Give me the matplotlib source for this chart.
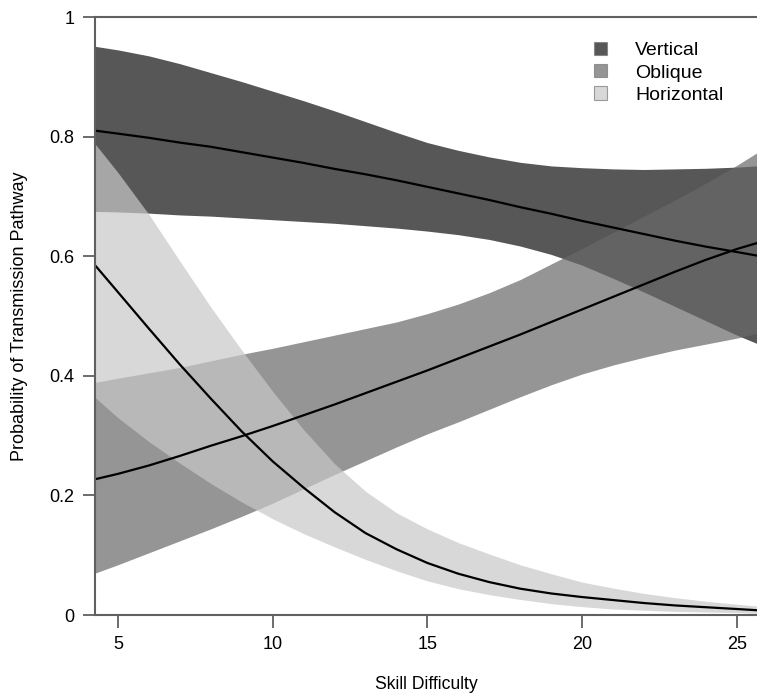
import matplotlib
matplotlib.use("Agg")
import matplotlib.pyplot as plt
from matplotlib.patches import Patch

plt.rcParams['font.family'] = ['Liberation Sans', 'DejaVu Sans']

# skill difficulty values the curves were read at
skill = [4.26, 5, 6, 7, 8, 9, 10, 11, 12, 13, 14, 15, 16, 17, 18, 19, 20,
         21, 22, 23, 24, 25, 25.65]

# vertical pathway: fit and band
vert_mid = [0.810, 0.805, 0.798, 0.790, 0.783, 0.774, 0.765, 0.756, 0.746, 0.737,
            0.727, 0.716, 0.705, 0.694, 0.682, 0.671, 0.659, 0.648, 0.637, 0.626,
            0.616, 0.607, 0.601]
vert_hi = [0.951, 0.945, 0.935, 0.922, 0.907, 0.892, 0.876, 0.860, 0.843, 0.825,
           0.807, 0.790, 0.777, 0.766, 0.757, 0.751, 0.748, 0.746, 0.745, 0.746,
           0.747, 0.749, 0.751]
vert_lo = [0.675, 0.674, 0.672, 0.669, 0.667, 0.664, 0.661, 0.658, 0.655, 0.651,
           0.647, 0.642, 0.636, 0.628, 0.617, 0.603, 0.585, 0.563, 0.540, 0.516,
           0.492, 0.468, 0.454]

# oblique pathway
obl_mid = [0.227, 0.236, 0.250, 0.266, 0.283, 0.299, 0.316, 0.334, 0.352, 0.371,
           0.390, 0.409, 0.429, 0.449, 0.469, 0.490, 0.511, 0.532, 0.553, 0.574,
           0.594, 0.612, 0.622]
obl_hi = [0.389, 0.396, 0.405, 0.414, 0.425, 0.436, 0.446, 0.457, 0.468, 0.479,
          0.490, 0.504, 0.520, 0.539, 0.561, 0.587, 0.613, 0.640, 0.667, 0.694,
          0.722, 0.752, 0.773]
obl_lo = [0.070, 0.084, 0.104, 0.124, 0.144, 0.165, 0.187, 0.211, 0.235, 0.258,
          0.281, 0.303, 0.323, 0.344, 0.365, 0.385, 0.403, 0.418, 0.431, 0.443,
          0.453, 0.463, 0.471]

# horizontal pathway
hor_mid = [0.585, 0.540, 0.479, 0.419, 0.362, 0.307, 0.257, 0.213, 0.172, 0.137,
           0.110, 0.087, 0.069, 0.055, 0.044, 0.036, 0.030, 0.025, 0.020, 0.016,
           0.013, 0.010, 0.008]
hor_hi = [0.788, 0.740, 0.670, 0.592, 0.515, 0.443, 0.374, 0.310, 0.253, 0.207,
          0.171, 0.144, 0.121, 0.102, 0.084, 0.069, 0.055, 0.045, 0.036, 0.029,
          0.023, 0.018, 0.015]
hor_lo = [0.364, 0.330, 0.290, 0.254, 0.220, 0.189, 0.161, 0.136, 0.114, 0.093,
          0.074, 0.057, 0.044, 0.034, 0.026, 0.019, 0.014, 0.010, 0.008, 0.006,
          0.005, 0.004, 0.003]

names = ['Vertical', 'Oblique', 'Horizontal']
colors = ['#101010', '#696969', '#c8c8c8']
alpha = 0.7

xticks = [5, 10, 15, 20, 25]
yticks = [0, 0.2, 0.4, 0.6, 0.8, 1]
ytick_labels = ['0', '0.2', '0.4', '0.6', '0.8', '1']

fig = plt.figure(figsize=(7.57, 6.97), dpi=100)
ax = fig.add_axes([95 / 757, 1 - 615 / 697, 1 - 95 / 757, (615 - 17) / 697])

bands = [(vert_lo, vert_hi), (obl_lo, obl_hi), (hor_lo, hor_hi)]
for (lo, hi), c in zip(bands, colors):
    ax.fill_between(skill, lo, hi, color=c, alpha=alpha, linewidth=0)

for mid in [vert_mid, obl_mid, hor_mid]:
    ax.plot(skill, mid, color='black', lw=1.6)

ax.set_xlim(4.26, 25.65)
ax.set_ylim(0, 1)
ax.set_xticks(xticks)
ax.set_yticks(yticks)
ax.set_yticklabels(ytick_labels)

spine_col = '#606060'
for side in ['left', 'bottom', 'top']:
    ax.spines[side].set_color(spine_col)
    ax.spines[side].set_linewidth(1.5)
ax.spines['right'].set_visible(False)
ax.tick_params(direction='out', length=9, width=1.3, color=spine_col,
               labelsize=13, pad=6)

ax.set_xlabel('Skill Difficulty', fontsize=12.7, labelpad=17)
ax.set_ylabel('Probability of Transmission Pathway', fontsize=13, labelpad=15)

handles = [Patch(facecolor=c, alpha=alpha, edgecolor='#777777', linewidth=0.8)
           for c in colors]
ax.legend(handles, names, loc='upper left', bbox_to_anchor=(584 / 757, 1 - 32 / 697),
          bbox_transform=fig.transFigure, frameon=False, fontsize=14,
          borderpad=0, handlelength=0.68, handleheight=0.68, handletextpad=1.45,
          labelspacing=0.25)

fig.savefig('out.png', dpi=100)
